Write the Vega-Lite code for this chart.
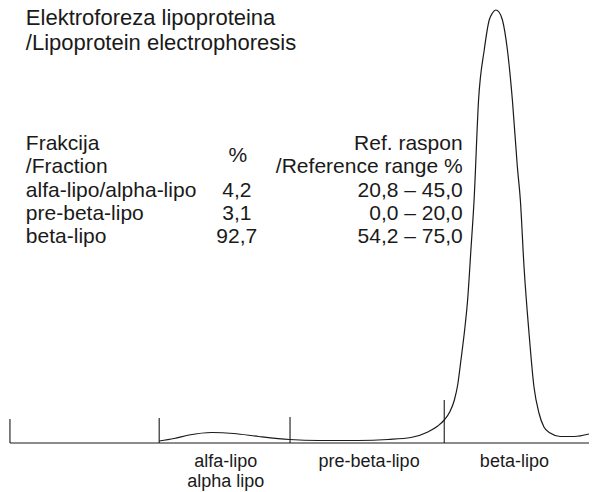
{
  "$schema": "https://vega.github.io/schema/vega-lite/v6.json",
  "width": 592,
  "height": 492,
  "autosize": {"type": "fit", "contains": "padding"},
  "padding": 0,
  "background": "white",
  "config": {"view": {"stroke": null}, "text": {"font": "Liberation Sans", "color": "#1a1a1a"}},
  "datasets": {
    "curve": [
      {"pos": 160, "intensity": 2},
      {"pos": 175, "intensity": 4.5},
      {"pos": 190, "intensity": 8},
      {"pos": 213, "intensity": 10.5},
      {"pos": 235, "intensity": 9.5},
      {"pos": 260, "intensity": 6.5},
      {"pos": 291, "intensity": 3.5},
      {"pos": 320, "intensity": 2.5},
      {"pos": 360, "intensity": 2.5},
      {"pos": 390, "intensity": 3.5},
      {"pos": 413, "intensity": 5.5},
      {"pos": 430, "intensity": 11},
      {"pos": 440, "intensity": 17},
      {"pos": 446.5, "intensity": 23},
      {"pos": 452, "intensity": 31},
      {"pos": 456.7, "intensity": 43},
      {"pos": 460, "intensity": 58},
      {"pos": 463.3, "intensity": 83},
      {"pos": 467, "intensity": 113},
      {"pos": 470, "intensity": 143},
      {"pos": 473.3, "intensity": 193},
      {"pos": 476.5, "intensity": 243},
      {"pos": 481, "intensity": 343},
      {"pos": 486.7, "intensity": 393},
      {"pos": 491.7, "intensity": 423},
      {"pos": 495, "intensity": 430},
      {"pos": 498.3, "intensity": 433},
      {"pos": 501.5, "intensity": 431},
      {"pos": 505, "intensity": 423},
      {"pos": 510, "intensity": 393},
      {"pos": 515, "intensity": 343},
      {"pos": 520, "intensity": 276},
      {"pos": 523, "intensity": 243},
      {"pos": 526.7, "intensity": 176},
      {"pos": 531.7, "intensity": 110},
      {"pos": 536.7, "intensity": 56},
      {"pos": 541.7, "intensity": 30},
      {"pos": 546.7, "intensity": 16},
      {"pos": 553, "intensity": 10},
      {"pos": 563, "intensity": 6.5},
      {"pos": 577, "intensity": 6.5},
      {"pos": 592, "intensity": 9}
    ],
    "baseline": [{"start": 10, "end": 592, "level": 0}],
    "dividers": [
      {"pos": 10, "bottom": 0, "top": 24},
      {"pos": 160, "bottom": 0, "top": 25},
      {"pos": 291.5, "bottom": 0, "top": 26},
      {"pos": 446.5, "bottom": 0, "top": 43}
    ],
    "title": [
      {"label": "Elektroforeza lipoproteina", "pos": 26, "level": 418},
      {"label": "/Lipoprotein electrophoresis", "pos": 26, "level": 393}
    ],
    "tableLeft": [
      {"label": "Frakcija", "pos": 26, "level": 293},
      {"label": "/Fraction", "pos": 26, "level": 270},
      {"label": "alfa-lipo/alpha-lipo", "pos": 26, "level": 246},
      {"label": "pre-beta-lipo", "pos": 26, "level": 223},
      {"label": "beta-lipo", "pos": 26, "level": 200}
    ],
    "tableCenter": [
      {"label": "%", "pos": 239, "level": 281},
      {"label": "4,2", "pos": 238, "level": 246},
      {"label": "3,1", "pos": 238, "level": 223},
      {"label": "92,7", "pos": 238, "level": 200}
    ],
    "tableRight": [
      {"label": "Ref. raspon", "pos": 465, "level": 293},
      {"label": "/Reference range %", "pos": 465, "level": 270},
      {"label": "20,8 – 45,0", "pos": 465, "level": 246},
      {"label": "0,0 – 20,0", "pos": 465, "level": 223},
      {"label": "54,2 – 75,0", "pos": 465, "level": 200}
    ],
    "fractions": [
      {"label": "alfa-lipo", "pos": 227, "level": -24},
      {"label": "alpha lipo", "pos": 227, "level": -44},
      {"label": "pre-beta-lipo", "pos": 371, "level": -24},
      {"label": "beta-lipo", "pos": 517, "level": -24}
    ]
  },
  "layer": [
    {
      "data": {"name": "baseline"},
      "mark": {"type": "rule", "color": "#1a1a1a", "strokeWidth": 1.2},
      "encoding": {
        "x": {"field": "start", "type": "quantitative", "scale": {"domain": [0, 592], "nice": false, "zero": false}, "axis": null},
        "x2": {"field": "end"},
        "y": {"field": "level", "type": "quantitative", "scale": {"domain": [-49, 443], "nice": false, "zero": false}, "axis": null}
      }
    },
    {
      "data": {"name": "dividers"},
      "mark": {"type": "rule", "color": "#1a1a1a", "strokeWidth": 1.1},
      "encoding": {
        "x": {"field": "pos", "type": "quantitative"},
        "y": {"field": "bottom", "type": "quantitative"},
        "y2": {"field": "top"}
      }
    },
    {
      "data": {"name": "curve"},
      "mark": {"type": "line", "color": "#1a1a1a", "strokeWidth": 1.2, "interpolate": "monotone"},
      "encoding": {
        "x": {"field": "pos", "type": "quantitative"},
        "y": {"field": "intensity", "type": "quantitative"}
      }
    },
    {
      "data": {"name": "title"},
      "mark": {"type": "text", "align": "left", "baseline": "alphabetic", "fontSize": 22},
      "encoding": {
        "x": {"field": "pos", "type": "quantitative"},
        "y": {"field": "level", "type": "quantitative"},
        "text": {"field": "label"}
      }
    },
    {
      "data": {"name": "tableLeft"},
      "mark": {"type": "text", "align": "left", "baseline": "alphabetic", "fontSize": 21},
      "encoding": {
        "x": {"field": "pos", "type": "quantitative"},
        "y": {"field": "level", "type": "quantitative"},
        "text": {"field": "label"}
      }
    },
    {
      "data": {"name": "tableCenter"},
      "mark": {"type": "text", "align": "center", "baseline": "alphabetic", "fontSize": 21},
      "encoding": {
        "x": {"field": "pos", "type": "quantitative"},
        "y": {"field": "level", "type": "quantitative"},
        "text": {"field": "label"}
      }
    },
    {
      "data": {"name": "tableRight"},
      "mark": {"type": "text", "align": "right", "baseline": "alphabetic", "fontSize": 21},
      "encoding": {
        "x": {"field": "pos", "type": "quantitative"},
        "y": {"field": "level", "type": "quantitative"},
        "text": {"field": "label"}
      }
    },
    {
      "data": {"name": "fractions"},
      "mark": {"type": "text", "align": "center", "baseline": "alphabetic", "fontSize": 18},
      "encoding": {
        "x": {"field": "pos", "type": "quantitative"},
        "y": {"field": "level", "type": "quantitative"},
        "text": {"field": "label"}
      }
    }
  ]
}
